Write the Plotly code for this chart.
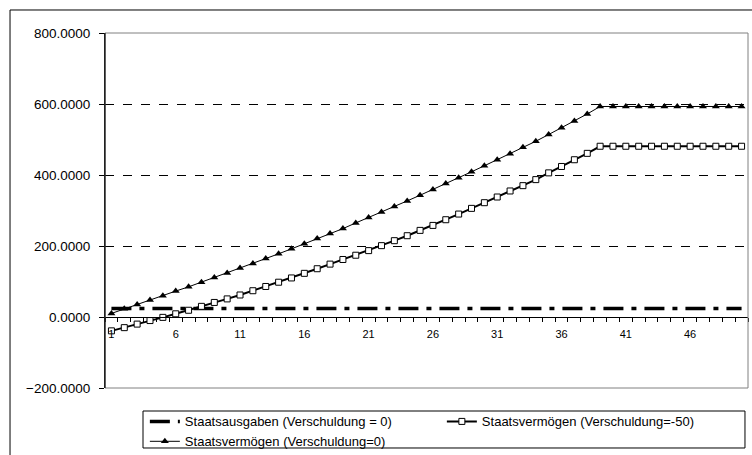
import plotly.graph_objects as go

periods = list(range(1, 51))

staatsausgaben = [24, 24, 24, 24, 24, 24, 24, 24, 24, 24,
                  24, 24, 24, 24, 24, 24, 24, 24, 24, 24,
                  24, 24, 24, 24, 24, 24, 24, 24, 24, 24,
                  24, 24, 24, 24, 24, 24, 24, 24, 24, 24,
                  24, 24, 24, 24, 24, 24, 24, 24, 24, 24]

vermoegen_minus50 = [-39, -30, -20, -10, -1, 9, 19, 30, 41, 51,
                     62, 74, 86, 98, 110, 123, 136, 149, 162, 174,
                     187, 201, 215, 229, 244, 258, 274, 290, 306, 322,
                     338, 355, 370, 387, 406, 424, 443, 461, 481, 481,
                     481, 481, 481, 481, 481, 481, 481, 481, 481, 481]

vermoegen_0 = [10, 23, 35, 48, 60, 73, 85, 98, 111, 124,
               138, 151, 165, 178, 192, 206, 221, 235, 249, 265,
               280, 296, 311, 327, 343, 359, 376, 392, 409, 426,
               443, 460, 478, 495, 514, 533, 552, 572, 593, 593,
               593, 593, 593, 593, 593, 593, 593, 593, 593, 593]

x_ticks = [1, 6, 11, 16, 21, 26, 31, 36, 41, 46]
y_ticks = [-200, 0, 200, 400, 600, 800]

FONT = "Liberation Sans, Arial, sans-serif"

fig = go.Figure()
fig.add_trace(go.Scatter(
    x=periods, y=staatsausgaben, mode="lines",
    name="Staatsausgaben (Verschuldung = 0)",
    line=dict(color="black", width=3.5, dash="20px,8px,5px,8px"),
))
fig.add_trace(go.Scatter(
    x=periods, y=vermoegen_minus50, mode="lines+markers",
    name="Staatsvermögen (Verschuldung=-50)",
    line=dict(color="black", width=2),
    marker=dict(symbol="square", size=6, color="white",
                line=dict(color="black", width=1)),
))
fig.add_trace(go.Scatter(
    x=periods, y=vermoegen_0, mode="lines+markers",
    name="Staatsvermögen (Verschuldung=0)",
    line=dict(color="black", width=1),
    marker=dict(symbol="triangle-up", size=7, color="black"),
))

fig.update_layout(
    width=752, height=455,
    margin=dict(l=105, r=4, t=33, b=67, autoexpand=False),
    paper_bgcolor="white", plot_bgcolor="white",
    font=dict(family=FONT, size=12, color="black"),
    showlegend=True,
    legend=dict(
        orientation="h", x=0.062, xanchor="left", y=-0.052, yanchor="top",
        bgcolor="rgba(0,0,0,0)", borderwidth=0,
        font=dict(family=FONT, size=13, color="black"),
        entrywidth=252, tracegroupgap=0,
    ),
    xaxis=dict(
        range=[0.5, 50.5], tickmode="array", tickvals=x_ticks,
        ticktext=[str(v) for v in x_ticks],
        ticks="", showgrid=False, zeroline=False,
        showline=True, linecolor="black", linewidth=1,
        anchor="free", position=0.2, ticklabelstandoff=7,
        tickfont=dict(family=FONT, size=11, color="black"),
        minor=dict(tick0=0.5, dtick=1, ticks="outside", ticklen=4,
                   tickcolor="black", showgrid=False),
    ),
    yaxis=dict(
        range=[-200, 800], tickmode="array", tickvals=y_ticks,
        tickformat=".4f", ticks="outside", ticklen=5, tickcolor="black",
        ticklabelstandoff=6,
        showline=True, linecolor="black", linewidth=1,
        showgrid=True, gridcolor="black", griddash="dash", gridwidth=1,
        zeroline=False,
        tickfont=dict(family=FONT, size=13.5, color="black"),
    ),
    shapes=[
        dict(type="rect", xref="paper", yref="paper", x0=0, x1=1, y0=0, y1=1,
             line=dict(color="#808080", width=1), fillcolor="rgba(0,0,0,0)",
             layer="above"),
        dict(type="line", xref="paper", yref="paper", x0=0, x1=0, y0=0, y1=1,
             line=dict(color="black", width=1), layer="above"),
        dict(type="rect", xref="paper", yref="paper",
             x0=-0.1477, x1=1.2, y0=-0.4, y1=1.0648,
             line=dict(color="black", width=1), fillcolor="rgba(0,0,0,0)",
             layer="above"),
        dict(type="rect", xref="paper", yref="paper",
             x0=0.0591, x1=0.9953, y0=-0.1690, y1=-0.0648,
             line=dict(color="black", width=1), fillcolor="rgba(0,0,0,0)",
             layer="above"),
    ],
)

fig.write_html("out.html")
